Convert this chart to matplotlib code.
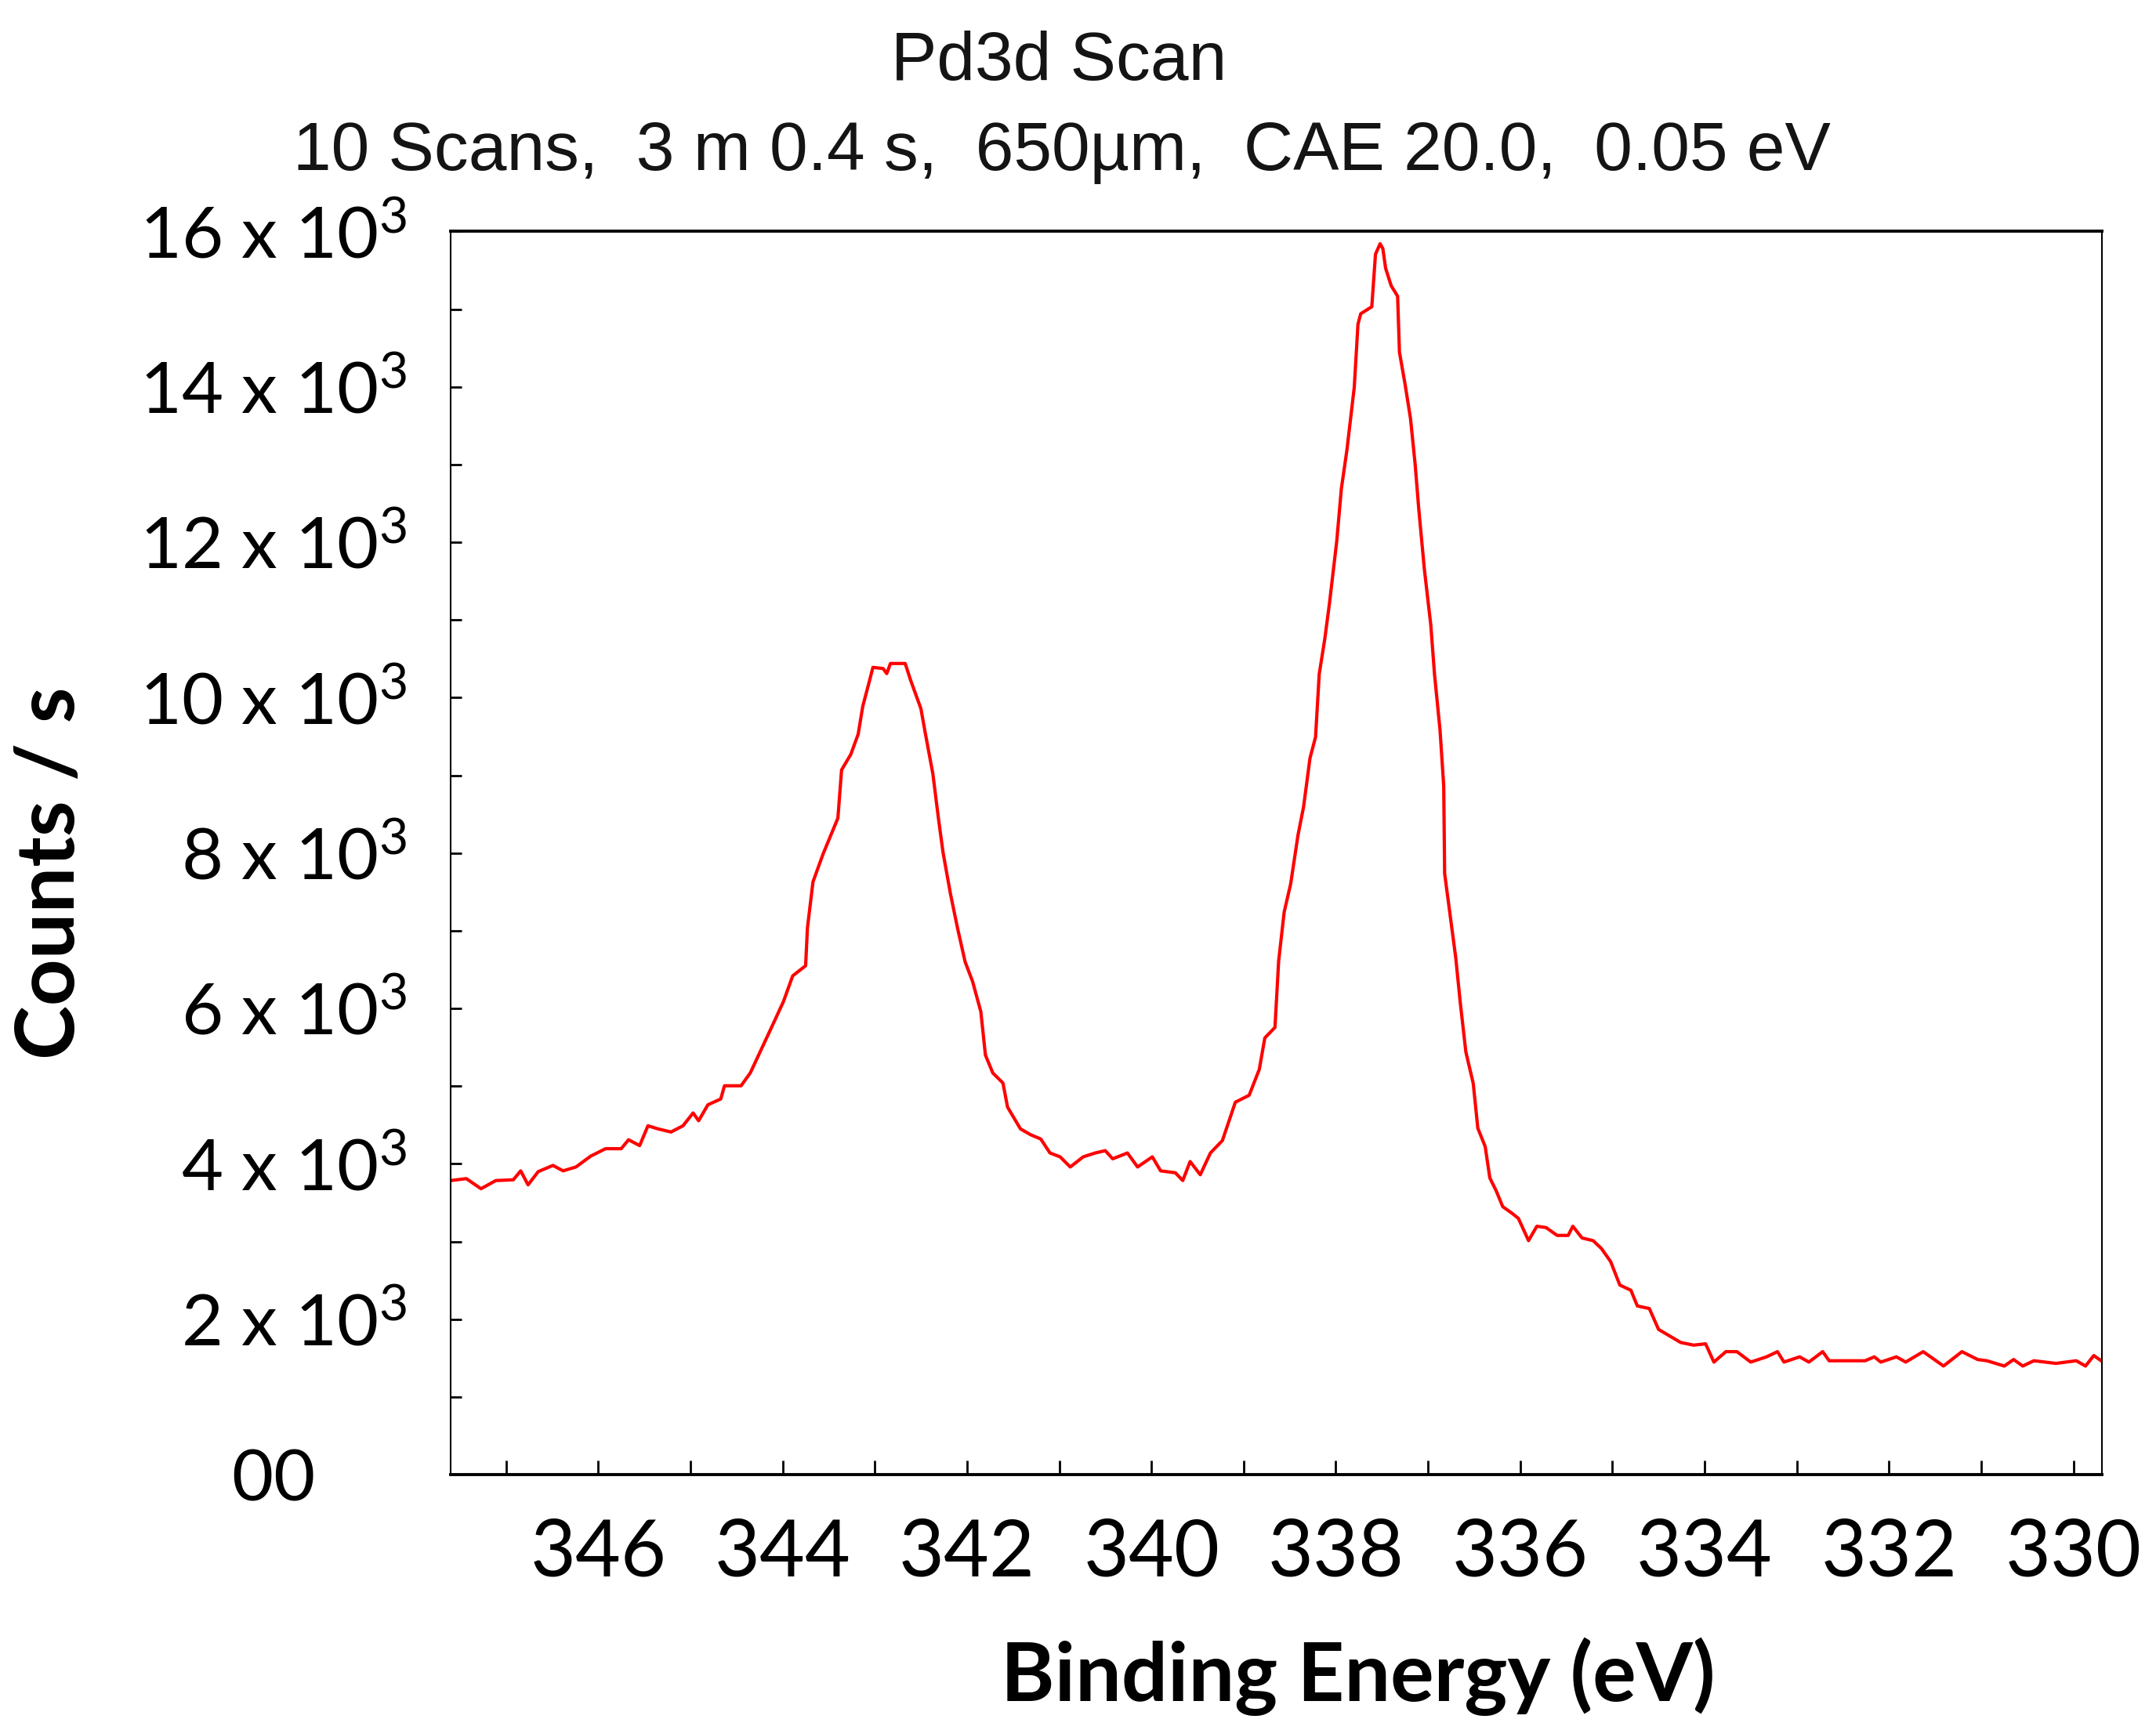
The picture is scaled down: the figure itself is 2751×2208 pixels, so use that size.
import matplotlib
matplotlib.use('Agg')
import matplotlib.pyplot as plt
from matplotlib.ticker import MultipleLocator

# Pd3d spectrum (binding energy in eV, counts/s)
energy = [347.60, 347.43, 347.27, 347.11, 346.92, 346.84, 346.76, 346.65, 346.49, 346.38,
          346.24, 346.08, 345.92, 345.75, 345.67, 345.55, 345.46, 345.35, 345.21, 345.08,
          344.97, 344.91, 344.81, 344.67, 344.63, 344.45, 344.35, 344.24, 344.13, 343.99,
          343.89, 343.75, 343.73, 343.67, 343.56, 343.48, 343.40, 343.36, 343.26, 343.18,
          343.13, 343.05, 343.02, 342.91, 342.87, 342.83, 342.67, 342.61, 342.50, 342.45,
          342.37, 342.31, 342.26, 342.18, 342.10, 342.02, 341.94, 341.85, 341.80, 341.72,
          341.61, 341.56, 341.42, 341.31, 341.20, 341.10, 340.99, 340.88, 340.74, 340.61,
          340.50, 340.42, 340.26, 340.15, 339.99, 339.90, 339.74, 339.66, 339.58, 339.47,
          339.36, 339.23, 339.09, 338.94, 338.83, 338.77, 338.66, 338.62, 338.56, 338.49,
          338.41, 338.35, 338.28, 338.22, 338.18, 338.12, 338.07, 337.99, 337.94, 337.88,
          337.80, 337.76, 337.73, 337.61, 337.57, 337.52, 337.49, 337.46, 337.40, 337.33,
          337.31, 337.25, 337.19, 337.14, 337.10, 337.04, 336.97, 336.93, 336.87, 336.83,
          336.82, 336.76, 336.70, 336.65, 336.59, 336.51, 336.46, 336.38, 336.33, 336.26,
          336.19, 336.09, 336.02, 335.91, 335.82, 335.72, 335.60, 335.48, 335.43, 335.33,
          335.21, 335.12, 335.02, 334.92, 334.80, 334.73, 334.60, 334.50, 334.38, 334.26,
          334.12, 333.99, 333.90, 333.77, 333.65, 333.50, 333.33, 333.21, 333.14, 332.97,
          332.87, 332.72, 332.65, 332.26, 332.16, 332.09, 331.92, 331.82, 331.63, 331.41,
          331.21, 331.04, 330.94, 330.75, 330.65, 330.55, 330.43, 330.19, 329.97, 329.87,
          329.78, 329.70]
counts = [3785, 3810, 3680, 3785, 3795, 3910, 3730, 3900, 3980, 3910,
          3960, 4100, 4195, 4195, 4310, 4235, 4490, 4450, 4410, 4490,
          4655, 4555, 4760, 4835, 5005, 5005, 5170, 5450, 5730, 6090,
          6420, 6550, 7040, 7630, 7990, 8220, 8450, 9070, 9270, 9530,
          9890, 10250, 10390, 10375, 10310, 10440, 10440, 10220, 9860, 9530,
          9020, 8450, 8010, 7480, 7020, 6600, 6350, 5960, 5400, 5170,
          5040, 4730, 4450, 4375, 4320, 4140, 4090, 3960, 4090, 4140,
          4170, 4065, 4140, 3960, 4090, 3910, 3885, 3785, 4030, 3860,
          4140, 4300, 4793, 4883, 5216, 5621, 5756, 6612, 7242, 7602,
          8233, 8593, 9223, 9493, 10304, 10754, 11204, 12015, 12690, 13185,
          13996, 14806, 14941, 15031, 15707, 15842, 15779, 15527, 15302, 15167,
          14446, 14041, 13591, 13005, 12420, 11654, 10934, 10304, 9583, 8863,
          7737, 7197, 6657, 6071, 5441, 5036, 4458, 4222, 3819, 3651,
          3449, 3365, 3298, 3012, 3197, 3180, 3079, 3079, 3197, 3046,
          3012, 2911, 2743, 2440, 2373, 2171, 2138, 1869, 1785, 1701,
          1667, 1684, 1449, 1583, 1583, 1449, 1516, 1583, 1449, 1516,
          1449, 1583, 1466, 1466, 1516, 1449, 1516, 1449, 1583, 1398,
          1583, 1482, 1466, 1398, 1482, 1398, 1466, 1432, 1466, 1398,
          1533, 1466]

xticks = [346, 344, 342, 340, 338, 336, 334, 332, 330]
yticks = [0, 2000, 4000, 6000, 8000, 10000, 12000, 14000, 16000]
# trailing spaces push "00" left, like in the original
ytick_labels = ['00     ', '2 x 10$^3$', '4 x 10$^3$', '6 x 10$^3$', '8 x 10$^3$',
                '10 x 10$^3$', '12 x 10$^3$', '14 x 10$^3$', '16 x 10$^3$']

plt.rcParams['font.family'] = ['Lato', 'DejaVu Sans']
plt.rcParams['mathtext.fontset'] = 'custom'
plt.rcParams['mathtext.rm'] = 'Lato'
plt.rcParams['mathtext.it'] = 'Lato'
plt.rcParams['mathtext.default'] = 'rm'

fig = plt.figure(figsize=(27.51, 22.08), dpi=100)
ax = fig.add_axes([0.209, 0.1476, 0.766, 0.7186])

ax.plot(energy, counts, color='red', linewidth=3)

ax.set_xlim(347.6, 329.69)
ax.set_ylim(0, 16000)

ax.set_xticks(xticks)
ax.set_xticklabels([str(t) for t in xticks])
ax.xaxis.set_minor_locator(MultipleLocator(1))
ax.set_yticks(yticks)
ax.set_yticklabels(ytick_labels)
ax.yaxis.set_minor_locator(MultipleLocator(1000))

ax.tick_params(axis='x', which='both', direction='in', length=13, width=2,
               top=False, labelsize=72, pad=40)
ax.tick_params(axis='y', which='both', direction='in', length=10, width=2,
               right=False, labelsize=66, pad=40)

for side in ['top', 'bottom']:
    ax.spines[side].set_linewidth(2.8)
for side in ['left', 'right']:
    ax.spines[side].set_linewidth(1.5)

# axis titles
fig.text(0.630, 0.031, 'Binding Energy (eV)', ha='center', va='center',
         fontsize=75, fontweight='bold')
fig.text(0.0236, 0.4955, 'Counts / s', ha='center', va='center',
         rotation=90, fontsize=75, fontweight='bold')

# header lines
fig.text(0.491, 0.9538, 'Pd3d Scan', ha='center', va='baseline',
         fontsize=63, color='#141414', family=['Liberation Sans', 'DejaVu Sans'])
fig.text(0.4925, 0.9017, '10 Scans,  3 m 0.4 s,  650µm,  CAE 20.0,  0.05 eV',
         ha='center', va='baseline', fontsize=63, color='#141414',
         family=['Liberation Sans', 'DejaVu Sans'])

fig.savefig('out.png', dpi=100)
